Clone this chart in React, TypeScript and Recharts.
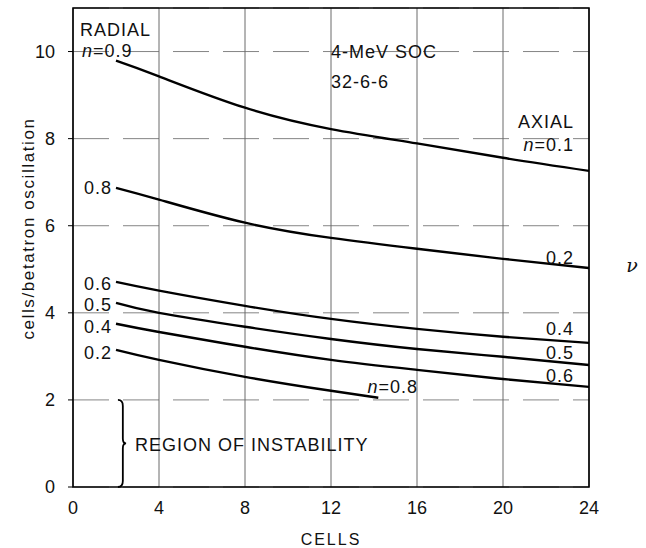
import React from 'react';
import { ComposedChart, Line, XAxis, YAxis, CartesianGrid, ReferenceDot, ReferenceArea, Label } from 'recharts';

const xTicks = [0, 4, 8, 12, 16, 20, 24];
const yTicks = [0, 2, 4, 6, 8, 10];
const nuTicks = [8, 6, 4, 3, 2];
const nuLabels = ['0.75', '1.0', '1.5', '2.0', '3.0'];

// cells per sector
const cells = [2, 4, 8, 12, 16, 20, 24];
const cellsShort = [2, 4, 8, 12, 14.2];

// cells / betatron oscillation, one curve per radial n (axial n = 1 - radial)
const radial09 = [9.79, 9.43, 8.71, 8.22, 7.89, 7.56, 7.26];
const radial08 = [6.87, 6.6, 6.07, 5.72, 5.47, 5.24, 5.03];
const radial06 = [4.71, 4.51, 4.16, 3.86, 3.63, 3.45, 3.31];
const radial05 = [4.23, 4.0, 3.68, 3.4, 3.17, 2.99, 2.8];
const radial04 = [3.75, 3.56, 3.22, 2.92, 2.69, 2.48, 2.3];
const radial02 = [3.15, 2.92, 2.53, 2.21, 2.05];

const pts = (xs: number[], ys: number[]) => xs.map((x, i) => ({ x, y: ys[i] }));

const series = [
  pts(cells, radial09),
  pts(cells, radial08),
  pts(cells, radial06),
  pts(cells, radial05),
  pts(cells, radial04),
  pts(cellsShort, radial02),
];

const FONT = "'Liberation Sans', Arial, sans-serif";

// annotations: [text, x, y, anchor]
const notes: [string, number, number, string][] = [
  ['RADIAL', 0.33, 10.5, 'start'],
  ['n=0.9', 0.42, 10.02, 'start'],
  ['4-MeV SOC', 12.0, 9.98, 'start'],
  ['32-6-6', 12.0, 9.31, 'start'],
  ['AXIAL', 23.3, 8.39, 'end'],
  ['n=0.1', 23.3, 7.86, 'end'],
  ['0.8', 1.82, 6.87, 'end'],
  ['0.2', 23.3, 5.27, 'end'],
  ['0.6', 1.82, 4.67, 'end'],
  ['0.5', 1.82, 4.18, 'end'],
  ['0.4', 1.82, 3.68, 'end'],
  ['0.2', 1.82, 3.08, 'end'],
  ['0.4', 23.3, 3.63, 'end'],
  ['0.5', 23.3, 3.08, 'end'],
  ['0.6', 23.3, 2.55, 'end'],
  ['n=0.8', 13.7, 2.3, 'start'],
  ['REGION OF INSTABILITY', 2.88, 0.97, 'start'],
];

const renderText = (txt: string) => {
  if (txt.startsWith('n=')) {
    return (
      <>
        <tspan fontStyle="italic">n</tspan>
        {txt.slice(1)}
      </>
    );
  }
  return txt;
};

const Brace = (props: any) => {
  const { x, y, width, height } = props;
  const xm = x + width * 0.6;
  const tip = x + width;
  const mid = y + height / 2;
  const yb = y + height;
  const d = `M${x},${y} Q${xm},${y} ${xm},${y + 6} L${xm},${mid - 5} Q${xm},${mid} ${tip},${mid} Q${xm},${mid} ${xm},${mid + 5} L${xm},${yb - 6} Q${xm},${yb} ${x},${yb}`;
  return <path d={d} fill="none" stroke="#000" strokeWidth={1.8} />;
};

const tickStyle = { fill: '#111', fontSize: 18, fontFamily: FONT };

const App = () => {
  return (
    <div style={{ position: 'absolute', left: 0, top: 0, background: '#fff' }}>
      <ComposedChart width={646} height={548} margin={{ top: 8, right: 0, bottom: 0, left: 0 }}>
        <CartesianGrid horizontal={false} stroke="#444" strokeWidth={0.8} />
        <CartesianGrid vertical={false} stroke="#666" strokeWidth={0.8} strokeDasharray="36 14" />
        <XAxis
          dataKey="x"
          type="number"
          domain={[0, 24]}
          ticks={xTicks}
          allowDataOverflow
          height={61}
          axisLine={false}
          tickLine={false}
          tickSize={0}
          tickMargin={14}
          tick={tickStyle}
        >
          <Label value="CELLS" position="insideBottom" offset={3} style={{ fill: '#111', fontSize: 16, fontFamily: FONT, letterSpacing: 2 }} />
        </XAxis>
        <YAxis
          type="number"
          domain={[0, 11]}
          ticks={yTicks}
          width={73}
          axisLine={false}
          tickSize={5}
          tickMargin={13}
          tickLine={{ stroke: '#000' }}
          tick={tickStyle}
        >
          <Label
            content={(p: any) => {
              const vb = p.viewBox;
              const cx = vb.x + 28;
              const cy = vb.y + vb.height / 2 - 19;
              return (
                <text x={cx} y={cy} transform={`rotate(-90 ${cx} ${cy})`} textAnchor="middle" dominantBaseline="central" fill="#111" fontSize={17} letterSpacing={1.6} fontFamily={FONT}>
                  cells/betatron oscillation
                </text>
              );
            }}
          />
        </YAxis>
        <YAxis
          yAxisId="right"
          orientation="right"
          type="number"
          domain={[0, 11]}
          ticks={nuTicks}
          tickFormatter={(v: number) => nuLabels[nuTicks.indexOf(v)]}
          width={57}
          axisLine={false}
          tickSize={5}
          tickMargin={8}
          tickLine={{ stroke: '#000' }}
          tick={tickStyle}
        />
        <ReferenceArea x1={0} x2={24} y1={0} y2={11} fill="none" fillOpacity={0} stroke="#000" strokeWidth={1.6} />
        <ReferenceArea x1={2.09} x2={2.47} y1={0} y2={2} shape={Brace} />
        {series.map((d, i) => (
          <Line
            key={i}
            data={d}
            dataKey="y"
            type="natural"
            stroke="#000"
            strokeWidth={2.4}
            dot={false}
            isAnimationActive={false}
          />
        ))}
        {notes.map(([t, x, y, anchor], i) => (
          <ReferenceDot
            key={'n' + i}
            x={x}
            y={y}
            r={0}
            fill="none"
            stroke="none"
            ifOverflow="visible"
            label={(p: any) => (
              <text
                x={p.viewBox.x}
                y={p.viewBox.y}
                textAnchor={anchor}
                dominantBaseline="central"
                fill="#111"
                fontSize={18}
                letterSpacing={1}
                fontFamily={FONT}
              >
                {renderText(t)}
              </text>
            )}
          />
        ))}
        <ReferenceDot
          x={24}
          y={5.1}
          r={0}
          fill="none"
          stroke="none"
          ifOverflow="visible"
          label={(p: any) => (
            <text x={p.viewBox.x + 43} y={p.viewBox.y} textAnchor="middle" dominantBaseline="central" fill="#111" fontSize={19} fontStyle="italic" fontFamily="'DejaVu Serif', serif">
              ν
            </text>
          )}
        />
      </ComposedChart>
    </div>
  );
};

export default App;
